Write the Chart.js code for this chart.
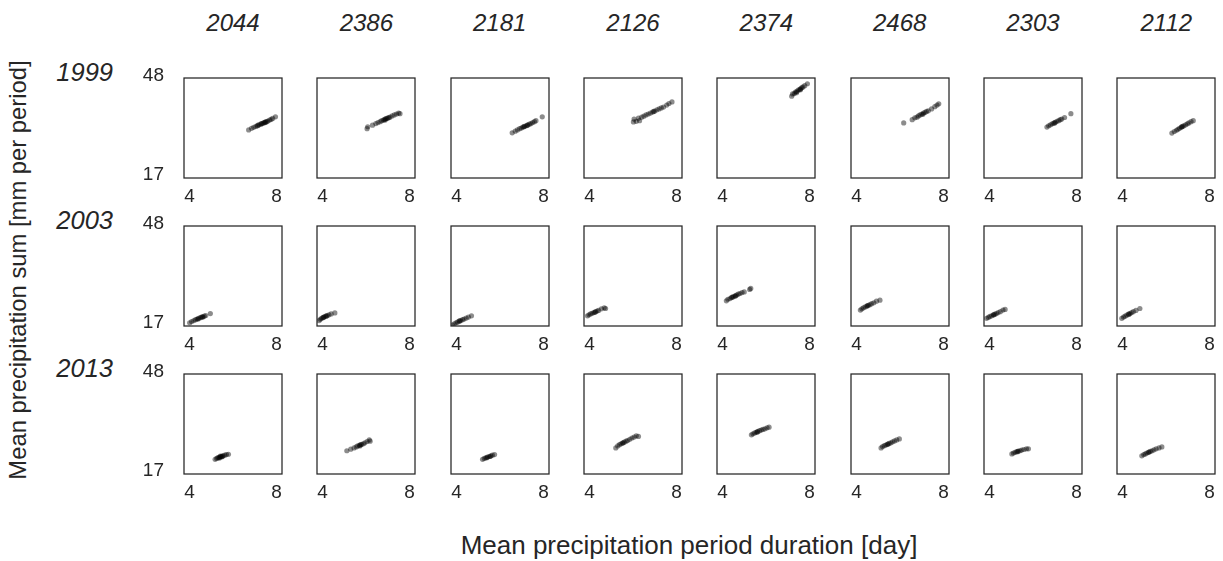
<!DOCTYPE html>
<html>
<head>
<meta charset="utf-8">
<script src="https://cdn.jsdelivr.net/npm/chart.js@4/dist/chart.umd.min.js"></script>
<style>
  html, body { margin: 0; padding: 0; background: #fff; }
  body { width: 1223px; height: 561px; position: relative; overflow: hidden;
         font-family: "Liberation Sans", Arial, sans-serif; color: #262626; }
  canvas { position: absolute; }
  .lbl { position: absolute; white-space: nowrap; line-height: 1; }
  .col { font-size: 24px; font-style: italic; transform: translate(-50%, -50%); }
  .row { font-size: 25.5px; font-style: italic; transform: translate(-100%, -50%); }
  .axt { font-size: 26px; transform: translate(-50%, -50%); }
  .ayt { font-size: 23.8px; transform: translate(-50%, -50%) rotate(-90deg); }
</style>
</head>
<body>
<script>
// ---- categories ----
const stations = ["2044", "2386", "2181", "2126", "2374", "2468", "2303", "2112"];
const years = ["1999", "2003", "2013"];
const xTickValues = [4, 8];
const yTickValues = [17, 48];
const xLabel = "Mean precipitation period duration [day]";
const yLabel = "Mean precipitation sum [mm per period]";

// ---- series: [duration (day), sum (mm)] per year / station ----
const p1999_2044 = [[6.72,31.9],[6.85,32.4],[6.95,32.7],[7.05,33.0],[7.12,33.2],[7.2,33.5],[7.28,33.7],[7.35,33.9],[7.4,34.1],[7.45,34.3],[7.5,34.4],[7.55,34.5],[7.6,34.7],[7.68,35.0],[7.75,35.2],[7.82,35.5],[7.95,36.0],[7.3,33.9],[7.48,34.2],[7.15,33.4]];
const p1999_2386 = [[6.05,32.3],[6.08,32.9],[6.3,33.4],[6.45,33.9],[6.55,34.2],[6.65,34.5],[6.72,34.8],[6.8,35.0],[6.85,35.2],[6.9,35.4],[6.95,35.5],[7.0,35.6],[7.05,35.8],[7.1,35.9],[7.2,36.3],[7.3,36.6],[7.4,36.9],[7.5,37.2],[7.56,37.0],[6.88,35.0]];
const p1999_2181 = [[6.56,31.0],[6.7,31.5],[6.8,31.9],[6.9,32.3],[6.98,32.5],[7.05,32.8],[7.12,33.0],[7.2,33.2],[7.28,33.5],[7.35,33.7],[7.42,33.9],[7.5,34.2],[7.58,34.5],[7.65,34.8],[7.94,36.0],[7.1,32.9],[7.25,33.3]];
const p1999_2126 = [[6.02,34.4],[6.05,35.3],[6.15,34.6],[6.25,35.6],[6.3,34.8],[6.4,35.9],[6.5,36.2],[6.6,36.6],[6.7,36.9],[6.8,37.2],[6.9,37.5],[7.0,37.8],[7.1,38.2],[7.2,38.5],[7.3,38.8],[7.4,39.1],[7.55,39.7],[7.65,40.2],[7.79,40.7],[6.95,37.7]];
const p1999_2374 = [[7.18,42.5],[7.22,43.2],[7.3,43.3],[7.35,43.8],[7.42,44.0],[7.48,44.4],[7.55,44.6],[7.6,44.9],[7.65,45.2],[7.7,45.4],[7.78,45.8],[7.9,46.4],[7.4,43.6],[7.58,44.5]];
const p1999_2468 = [[6.17,34.1],[6.56,35.1],[6.68,35.7],[6.78,35.9],[6.85,36.3],[6.92,36.6],[7.0,36.9],[7.08,37.2],[7.15,37.4],[7.22,37.7],[7.3,37.9],[7.45,38.5],[7.6,39.2],[7.7,39.7],[7.78,40.1],[7.05,36.8]];
const p1999_2303 = [[6.64,32.8],[6.72,33.2],[6.8,33.5],[6.88,33.8],[6.95,34.0],[7.02,34.3],[7.1,34.6],[7.18,34.8],[7.25,35.1],[7.32,35.3],[7.45,35.8],[7.74,37.0],[7.0,34.1]];
const p1999_2112 = [[6.27,30.9],[6.38,31.4],[6.48,31.8],[6.55,32.1],[6.62,32.4],[6.7,32.7],[6.76,33.0],[6.82,33.2],[6.9,33.5],[6.98,33.8],[7.05,34.1],[7.15,34.5],[7.25,34.8],[6.72,32.9]];

const p2003_2044 = [[4.01,17.8],[4.1,18.2],[4.2,18.5],[4.28,18.8],[4.35,19.0],[4.42,19.2],[4.5,19.4],[4.55,19.6],[4.6,19.7],[4.68,19.9],[4.75,20.1],[4.96,20.7],[4.4,19.0],[4.62,19.6]];
const p2003_2386 = [[3.85,18.5],[3.9,18.9],[3.96,19.2],[4.02,19.4],[4.08,19.7],[4.15,19.9],[4.22,20.1],[4.3,20.3],[4.4,20.6],[4.57,20.9],[4.05,19.5],[4.18,19.9]];
const p2003_2181 = [[3.81,17.1],[3.9,17.5],[3.98,17.8],[4.05,18.0],[4.12,18.3],[4.2,18.5],[4.28,18.8],[4.35,19.0],[4.45,19.3],[4.55,19.6],[4.69,20.0],[4.15,18.4]];
const p2003_2126 = [[3.91,20.0],[3.98,20.3],[4.05,20.6],[4.12,20.8],[4.2,21.0],[4.28,21.3],[4.35,21.5],[4.42,21.7],[4.55,22.2],[4.68,22.5],[4.74,22.3],[4.25,21.1]];
const p2003_2374 = [[4.18,24.7],[4.25,25.2],[4.35,25.4],[4.42,25.8],[4.5,26.0],[4.58,26.3],[4.65,26.5],[4.72,26.8],[4.8,27.0],[4.9,27.3],[5.0,27.5],[5.3,28.6],[5.25,28.3],[4.6,26.2],[4.45,25.8]];
const p2003_2468 = [[4.18,21.8],[4.25,22.2],[4.32,22.5],[4.4,22.8],[4.48,23.0],[4.55,23.3],[4.62,23.5],[4.7,23.8],[4.8,24.1],[4.92,24.6],[5.08,24.9],[4.5,23.2]];
const p2003_2303 = [[3.87,19.2],[3.95,19.5],[4.02,19.8],[4.1,20.0],[4.18,20.3],[4.25,20.5],[4.32,20.7],[4.4,21.0],[4.5,21.3],[4.62,21.8],[4.72,22.0],[4.2,20.3]];
const p2003_2112 = [[3.97,19.2],[4.05,19.6],[4.12,19.9],[4.2,20.2],[4.28,20.5],[4.35,20.7],[4.42,21.0],[4.5,21.3],[4.62,21.7],[4.8,22.3],[4.3,20.5]];

const p2013_2044 = [[5.18,21.4],[5.25,21.7],[5.3,21.9],[5.35,22.0],[5.4,22.1],[5.45,22.3],[5.5,22.4],[5.55,22.5],[5.62,22.7],[5.7,22.9],[5.79,23.0],[5.38,21.8],[5.5,22.2],[5.42,22.4]];
const p2013_2386 = [[5.12,24.1],[5.3,24.6],[5.45,25.0],[5.55,25.3],[5.62,25.6],[5.7,25.8],[5.75,26.0],[5.8,26.1],[5.88,26.3],[5.95,26.6],[6.05,27.0],[6.15,27.5],[6.19,27.1],[5.72,25.6]];
const p2013_2181 = [[5.2,21.4],[5.28,21.7],[5.35,21.9],[5.42,22.1],[5.5,22.3],[5.58,22.5],[5.65,22.7],[5.75,22.9],[5.4,21.9],[5.55,22.3]];
const p2013_2126 = [[5.21,25.0],[5.3,25.6],[5.38,26.0],[5.45,26.3],[5.52,26.5],[5.6,26.8],[5.68,27.1],[5.75,27.3],[5.85,27.7],[5.95,28.1],[6.05,28.4],[6.15,28.8],[6.25,28.6],[5.55,26.6]];
const p2013_2374 = [[5.33,29.1],[5.4,29.4],[5.48,29.7],[5.55,29.9],[5.62,30.1],[5.7,30.4],[5.78,30.6],[5.86,30.8],[5.95,31.0],[6.05,31.3],[6.14,31.5],[5.6,30.0]];
const p2013_2468 = [[5.13,25.0],[5.2,25.4],[5.28,25.7],[5.35,25.9],[5.42,26.1],[5.5,26.4],[5.58,26.6],[5.66,26.9],[5.75,27.2],[5.85,27.5],[5.97,27.8],[5.45,26.2]];
const p2013_2303 = [[5.03,23.1],[5.1,23.4],[5.18,23.6],[5.25,23.8],[5.32,24.0],[5.4,24.1],[5.48,24.3],[5.58,24.5],[5.7,24.7],[5.79,24.7],[5.3,23.8]];
const p2013_2112 = [[4.89,22.5],[4.98,22.9],[5.05,23.1],[5.12,23.4],[5.2,23.6],[5.28,23.9],[5.36,24.1],[5.45,24.4],[5.55,24.7],[5.68,25.0],[5.81,25.3],[5.22,23.7]];

const grid = [
  [p1999_2044, p1999_2386, p1999_2181, p1999_2126, p1999_2374, p1999_2468, p1999_2303, p1999_2112],
  [p2003_2044, p2003_2386, p2003_2181, p2003_2126, p2003_2374, p2003_2468, p2003_2303, p2003_2112],
  [p2013_2044, p2013_2386, p2013_2181, p2013_2126, p2013_2374, p2013_2468, p2013_2303, p2013_2112]
];

// ---- layout / style ----
const TXT = "#262626";
const FONT = '"Liberation Sans", Arial, sans-serif';
const BOX_L0 = 184, BOX_DX = 133.33, BOX_T0 = 78, BOX_DY = 148, BOX_W = 98, BOX_H = 100;
const PAD_L = 60, PAD_T = 40, PAD_R = 12, PAD_B = 42;

const boxPlugin = {
  id: 'boxFrame',
  afterDraw(chart) {
    const a = chart.chartArea, ctx = chart.ctx;
    ctx.save();
    ctx.strokeStyle = TXT;
    ctx.lineWidth = 1.25;
    ctx.strokeRect(a.left, a.top, a.right - a.left, a.bottom - a.top);
    ctx.restore();
  }
};

function addLabel(cls, text, x, y) {
  const d = document.createElement('div');
  d.className = 'lbl ' + cls;
  d.textContent = text;
  d.style.left = x + 'px';
  d.style.top = y + 'px';
  document.body.appendChild(d);
}

stations.forEach((s, c) => addLabel('col', s, BOX_L0 + BOX_DX * c + BOX_W / 2, 23));
years.forEach((y, r) => addLabel('row', y, 113, BOX_T0 + BOX_DY * r - 5));
addLabel('axt', xLabel, 689, 545);
addLabel('ayt', yLabel, 18, 270);

for (let r = 0; r < years.length; r++) {
  for (let c = 0; c < stations.length; c++) {
    const cv = document.createElement('canvas');
    const w = PAD_L + BOX_W + PAD_R, h = PAD_T + BOX_H + PAD_B;
    cv.width = w; cv.height = h;
    cv.style.width = w + 'px'; cv.style.height = h + 'px';
    cv.style.left = Math.round(BOX_L0 + BOX_DX * c - PAD_L) + 'px';
    cv.style.top = (BOX_T0 + BOX_DY * r - PAD_T) + 'px';
    document.body.appendChild(cv);
    new Chart(cv, {
      type: 'scatter',
      data: {
        datasets: [{
          data: grid[r][c].map(p => ({ x: p[0], y: p[1] })),
          backgroundColor: 'rgba(0,0,0,0.45)',
          borderWidth: 0,
          pointRadius: 2.6
        }]
      },
      options: {
        responsive: false,
        animation: false,
        devicePixelRatio: 1,
        layout: { padding: { top: PAD_T, right: PAD_R, left: 0, bottom: 0 } },
        plugins: { legend: { display: false }, tooltip: { enabled: false } },
        scales: {
          x: {
            type: 'linear', min: 3.75, max: 8.25,
            grid: { display: false, drawTicks: false },
            border: { display: false },
            afterBuildTicks: ax => { ax.ticks = xTickValues.map(v => ({ value: v })); },
            afterFit: ax => { ax.height = PAD_B; },
            ticks: { color: TXT, font: { family: FONT, size: 19 }, padding: 7, maxRotation: 0,
                     callback: v => String(v) }
          },
          y: {
            type: 'linear', min: 16.8, max: 48.2,
            grid: { display: false, drawTicks: false },
            border: { display: false },
            afterBuildTicks: ax => { ax.ticks = yTickValues.map(v => ({ value: v })); },
            afterFit: ax => { ax.width = PAD_L; },
            ticks: { display: c === 0, color: TXT, font: { family: FONT, size: 19 }, padding: 20,
                     labelOffset: -3, callback: v => String(v) }
          }
        }
      },
      plugins: [boxPlugin]
    });
  }
}
</script>
</body>
</html>
